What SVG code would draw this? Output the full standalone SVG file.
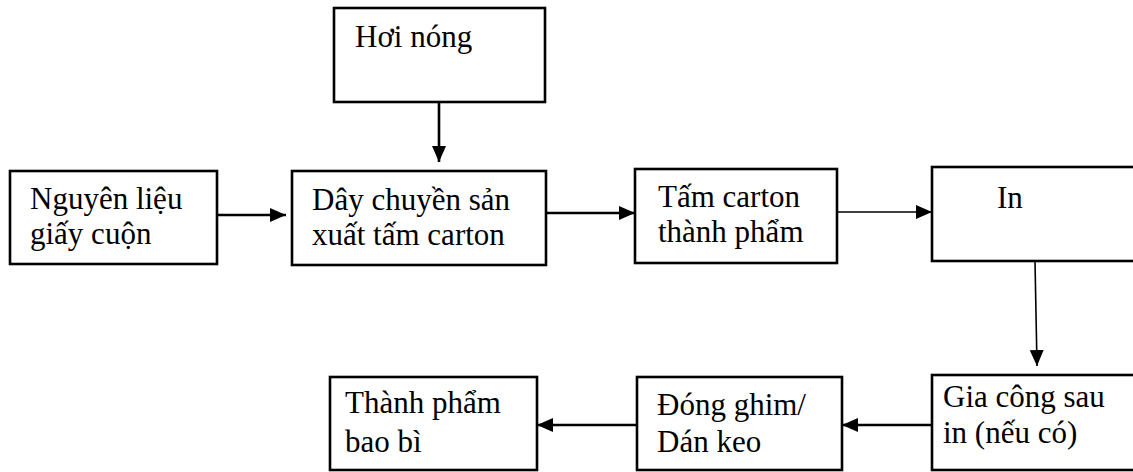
<svg xmlns="http://www.w3.org/2000/svg" width="1133" height="472" viewBox="0 0 1133 472">
<defs>
<style>
.box{fill:#fff;stroke:#000;stroke-width:2.6}
.lbl{font-family:"Liberation Serif","Times New Roman",serif;font-size:31px;fill:#000}
.con{stroke:#000;stroke-width:2.6;fill:none}
.thin{stroke-width:1.6}
</style>
<marker id="ah" viewBox="0 0 16 14" refX="16" refY="7" markerWidth="16" markerHeight="14" markerUnits="userSpaceOnUse" orient="auto">
<path d="M0,0 L16,7 L0,14 Z" fill="#000"/>
</marker>
</defs>
<rect width="1133" height="472" fill="#fff"/>
<g id="connectors">
<line class="con" x1="217" y1="215" x2="286" y2="215" marker-end="url(#ah)"/>
<line class="con" x1="439" y1="102" x2="439" y2="162" marker-end="url(#ah)"/>
<line class="con" x1="546" y1="213" x2="635" y2="213" marker-end="url(#ah)"/>
<line class="con thin" x1="837" y1="212" x2="932" y2="212" marker-end="url(#ah)"/>
<line class="con thin" x1="1035" y1="261" x2="1037" y2="366" marker-end="url(#ah)"/>
<line class="con" x1="932" y1="425" x2="842" y2="425" marker-end="url(#ah)"/>
<line class="con" x1="637" y1="425" x2="537" y2="425" marker-end="url(#ah)"/>
</g>
<g id="n-nguyenlieu">
<rect class="box" x="10" y="171" width="207" height="93"/>
<text class="lbl" x="30" y="209">Nguyên liệu</text>
<text class="lbl" x="30" y="244">giấy cuộn</text>
</g>
<g id="n-hoinong">
<rect class="box" x="334" y="8" width="211" height="94"/>
<text class="lbl" x="355" y="47">Hơi nóng</text>
</g>
<g id="n-daychuyen">
<rect class="box" x="292" y="171" width="254" height="94"/>
<text class="lbl" x="312" y="210">Dây chuyền sản</text>
<text class="lbl" x="312" y="245">xuất tấm carton</text>
</g>
<g id="n-tamcarton">
<rect class="box" x="635" y="169" width="202" height="94"/>
<text class="lbl" x="658" y="207">Tấm carton</text>
<text class="lbl" x="658" y="242">thành phẩm</text>
</g>
<g id="n-in">
<rect class="box" x="932" y="167" width="210" height="94"/>
<text class="lbl" x="997" y="208">In</text>
</g>
<g id="n-giacong">
<rect class="box" x="932" y="375" width="210" height="95"/>
<text class="lbl" x="943" y="407">Gia công sau</text>
<text class="lbl" x="943" y="443">in (nếu có)</text>
</g>
<g id="n-donghim">
<rect class="box" x="637" y="377" width="205" height="93"/>
<text class="lbl" x="657" y="415">Đóng ghim/</text>
<text class="lbl" x="657" y="452">Dán keo</text>
</g>
<g id="n-thanhpham">
<rect class="box" x="330" y="377" width="207" height="93"/>
<text class="lbl" x="345" y="413">Thành phẩm</text>
<text class="lbl" x="345" y="452">bao bì</text>
</g>
</svg>
